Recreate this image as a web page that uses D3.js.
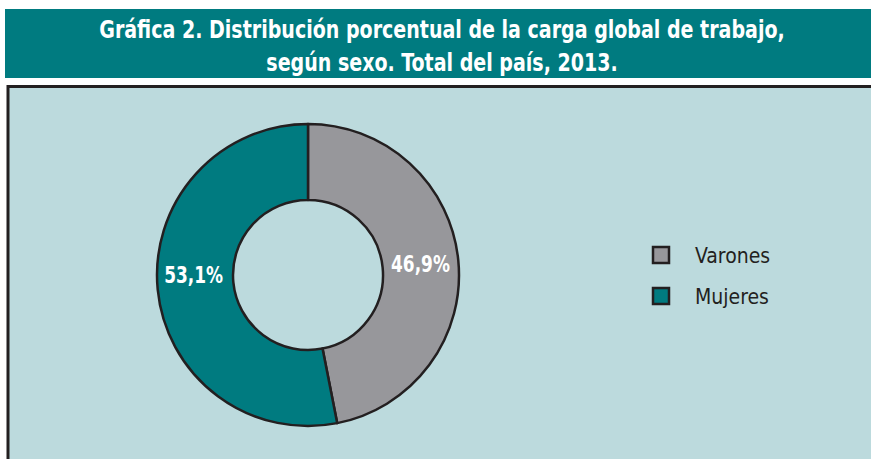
<!DOCTYPE html>
<html><head><meta charset="utf-8">
<script src="https://cdn.jsdelivr.net/npm/d3@7"></script>
<style>body{margin:0;background:#fff}svg{display:block}</style>
</head><body>
<script>
const categories = ["Varones", "Mujeres"];
const values = [46.9, 53.1];
const labels = ["46,9%", "53,1%"];
const titleLines = ["Gráfica 2. Distribución porcentual de la carga global de trabajo,", "según sexo. Total del país, 2013."];
const colors = ["#97979b", "#007b80"];

const W = 871, H = 459;
const FONT = "'DejaVu Sans Condensed','DejaVu Sans',sans-serif";
const svg = d3.select("body").append("svg").attr("width", W).attr("height", H);

// title bar
svg.append("rect").attr("x", 5).attr("y", 9).attr("width", W - 5).attr("height", 69).attr("fill", "#007b80");
svg.selectAll("g.title").data(titleLines).join("g")
  .attr("class", "title")
  .attr("transform", (d, i) => `translate(442,${38 + i * 33}) scale(0.83,1)`)
  .append("text")
  .attr("text-anchor", "middle")
  .attr("font-family", FONT).attr("font-weight", "bold").attr("font-size", 25.5)
  .attr("fill", "#fff").text(d => d);

// plot panel
svg.append("rect").attr("x", 8).attr("y", 86.5).attr("width", W + 10).attr("height", H)
  .attr("fill", "#bcdadd").attr("stroke", "#231f20").attr("stroke-width", 3);

const cx = 308, cy = 275, rO = 151, rI = 75;
const pie = d3.pie().sort(null).value(d => d)(values);
const arc = d3.arc().innerRadius(rI).outerRadius(rO);
const g = svg.append("g").attr("transform", `translate(${cx},${cy})`);
g.selectAll("path").data(pie).join("path")
  .attr("d", arc).attr("fill", (d, i) => colors[i])
  .attr("stroke", "#231f20").attr("stroke-width", 2.5).attr("stroke-linejoin", "round");

const labArc = d3.arc().innerRadius((rI + rO) / 2).outerRadius((rI + rO) / 2);
g.selectAll("g.lab").data(pie).join("g")
  .attr("class", "lab")
  .attr("transform", (d, i) => {
    const c = labArc.centroid(d);
    return `translate(${c[0] - (i ? 2 : 0)},${i ? 0 : c[1]}) scale(0.82,1)`;
  })
  .append("text")
  .attr("text-anchor", "middle").attr("dy", "0.36em")
  .attr("font-family", FONT).attr("font-weight", "bold").attr("font-size", 23)
  .attr("fill", "#fff").text((d, i) => labels[i]);

// legend
const leg = svg.append("g").selectAll("g").data(categories).join("g")
  .attr("transform", (d, i) => `translate(652,${246 + i * 41})`);
leg.append("rect").attr("x", 1).attr("y", 1).attr("width", 16).attr("height", 16)
  .attr("fill", (d, i) => colors[i]).attr("stroke", "#231f20").attr("stroke-width", 2.5);
leg.append("text").attr("x", 43).attr("y", 17)
  .attr("font-family", FONT).attr("font-size", 21).attr("fill", "#231f20").text(d => d);
</script>
</body></html>
